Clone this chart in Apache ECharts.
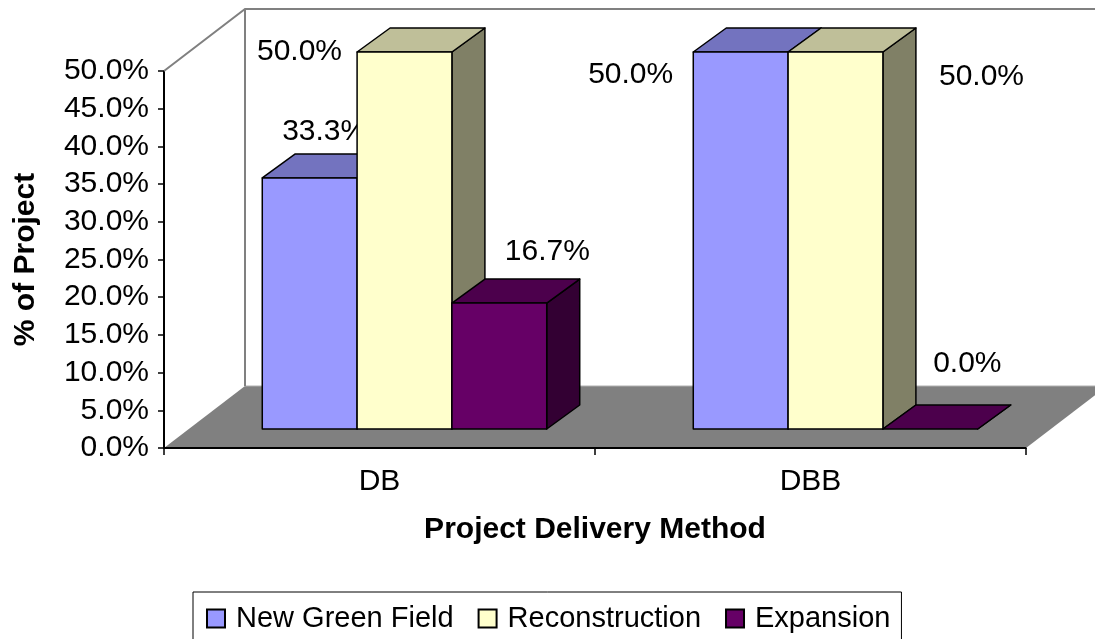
<!DOCTYPE html>
<html>
<head>
<meta charset="utf-8">
<script src="https://cdn.jsdelivr.net/npm/echarts@6/dist/echarts.min.js"></script>
<style>
  html, body { margin: 0; padding: 0; background: #fff; }
  #chart { width: 1095px; height: 639px; }
</style>
</head>
<body>
<div id="chart"></div>
<script>
// data (percent of projects)
var categories = ['DB', 'DBB'];
var seriesNames = ['New Green Field', 'Reconstruction', 'Expansion'];
var newGreenField = [33.3, 50.0];
var reconstruction = [50.0, 50.0];
var expansion = [16.7, 0.0];

var FONT = '"Liberation Sans", Arial, sans-serif';

// 3d look: floor depth, where the bars sit in it, and how deep the bars are
var FLOOR = [81, -62];
var FRONT = [25, -19];
var DEPTH = [33, -24];

var frontCol = ['#9999FF', '#FFFFCC', '#660066'];
var topCol = ['#7373BF', '#BFBF99', '#4C004C'];
var sideCol = ['#4D4D80', '#808066', '#330033'];

// excel puts the value labels all over the place, offsets from bar top centre
var labelShift = [
    [[15, -46], [-110, 23]],
    [[-105, 0], [146, 25]],
    [[48, -51], [37, -65]]
];

function fmt(v) {
    return v.toFixed(1) + '%';
}

function frameItem(params, api) {
    var r = params.coordSys;
    var x = r.x, y = r.y, w = r.width, h = r.height;
    var fx = FLOOR[0], fy = FLOOR[1];
    return {
        type: 'group',
        children: [
            {
                type: 'polygon',
                shape: { points: [[x, y + h], [x + fx, y + h + fy], [x + w + fx, y + h + fy], [x + w, y + h]] },
                style: { fill: '#808080', stroke: null }
            },
            {
                type: 'line',
                shape: { x1: x + fx, y1: y + h + fy, x2: x + w + fx, y2: y + h + fy },
                style: { stroke: '#B0B0B0', lineWidth: 1 }
            },
            {
                type: 'polyline',
                shape: { points: [[x, y], [x + fx, y + fy], [x + fx + w, y + fy]] },
                style: { stroke: '#808080', lineWidth: 2, fill: null }
            },
            {
                type: 'line',
                shape: { x1: x + fx, y1: y + fy, x2: x + fx, y2: y + h + fy },
                style: { stroke: '#808080', lineWidth: 2 }
            },
            {
                type: 'line',
                shape: { x1: x, y1: y + h, x2: x + w, y2: y + h },
                style: { stroke: '#000', lineWidth: 2 }
            }
        ]
    };
}

function barItem(si) {
    return function (params, api) {
        var ci = api.value(0);
        var val = api.value(1);
        var base = api.coord([ci, 0]);
        var tp = api.coord([ci, val]);
        var bw = api.size([1, 0])[0] * 0.22;
        var x0 = base[0] + FRONT[0] + (si - 1.5) * bw;
        var x1 = x0 + bw;
        var yb = base[1] + FRONT[1];
        var yt = tp[1] + FRONT[1];
        var dx = DEPTH[0], dy = DEPTH[1];
        var edge = { stroke: '#000', lineWidth: 1.5, lineJoin: 'round' };
        var sh = labelShift[si][ci];
        return {
            type: 'group',
            children: [
                {
                    type: 'polygon',
                    shape: { points: [[x1, yt], [x1 + dx, yt + dy], [x1 + dx, yb + dy], [x1, yb]] },
                    style: Object.assign({ fill: sideCol[si] }, edge)
                },
                {
                    type: 'polygon',
                    shape: { points: [[x0, yt], [x0 + dx, yt + dy], [x1 + dx, yt + dy], [x1, yt]] },
                    style: Object.assign({ fill: topCol[si] }, edge)
                },
                {
                    type: 'rect',
                    shape: { x: x0, y: yt, width: bw, height: yb - yt },
                    style: Object.assign({ fill: frontCol[si] }, edge),
                    invisible: yb - yt < 0.5
                },
                {
                    type: 'text',
                    x: x0 + bw / 2 + sh[0],
                    y: yt + sh[1],
                    style: {
                        text: fmt(val),
                        fill: '#000',
                        fontSize: 30,
                        fontFamily: FONT,
                        align: 'center',
                        verticalAlign: 'middle'
                    }
                }
            ]
        };
    };
}

var values = [newGreenField, reconstruction, expansion];

var series = [{
    type: 'custom',
    name: 'frame',
    renderItem: frameItem,
    data: [[0, 0]],
    clip: false,
    silent: true,
    z: 1
}];
seriesNames.forEach(function (name, si) {
    series.push({
        type: 'custom',
        name: name,
        renderItem: barItem(si),
        data: values[si].map(function (v, ci) { return [ci, v]; }),
        encode: { x: 0, y: 1 },
        clip: false,
        itemStyle: { color: frontCol[si], borderColor: '#000', borderWidth: 1 },
        z: 2 + si
    });
});

var chart = echarts.init(document.getElementById('chart'));
chart.setOption({
    animation: false,
    backgroundColor: '#fff',
    grid: { left: 164, right: 69, top: 71, bottom: 191 },
    xAxis: {
        type: 'category',
        data: categories,
        axisLine: { show: true, lineStyle: { color: '#000', width: 2 } },
        axisTick: { show: true, length: 7, lineStyle: { color: '#000', width: 1.5 } },
        axisLabel: { color: '#000', fontSize: 30, fontFamily: FONT, margin: 19 },
        name: 'Project Delivery Method',
        nameLocation: 'middle',
        nameGap: 67,
        nameTextStyle: { color: '#000', fontSize: 30, fontWeight: 'bold', fontFamily: FONT }
    },
    yAxis: {
        type: 'value',
        min: 0,
        max: 50,
        interval: 5,
        splitLine: { show: false },
        axisLine: { show: true, lineStyle: { color: '#000', width: 2 } },
        axisTick: { show: true, length: 6, lineStyle: { color: '#000', width: 1.5 } },
        axisLabel: { color: '#000', fontSize: 30, fontFamily: FONT, margin: 15, formatter: fmt },
        name: '% of Project',
        nameLocation: 'middle',
        nameGap: 123,
        nameTextStyle: { color: '#000', fontSize: 30, fontWeight: 'bold', fontFamily: FONT }
    },
    legend: {
        data: seriesNames,
        left: 193,
        top: 592,
        icon: 'rect',
        itemWidth: 18,
        itemHeight: 18,
        itemGap: 24,
        padding: [12, 11, 30, 13],
        borderColor: '#000',
        borderWidth: 1,
        textStyle: { color: '#000', fontSize: 29, fontFamily: FONT, padding: [0, 0, 0, 6] }
    },
    series: series
});
</script>
</body>
</html>
